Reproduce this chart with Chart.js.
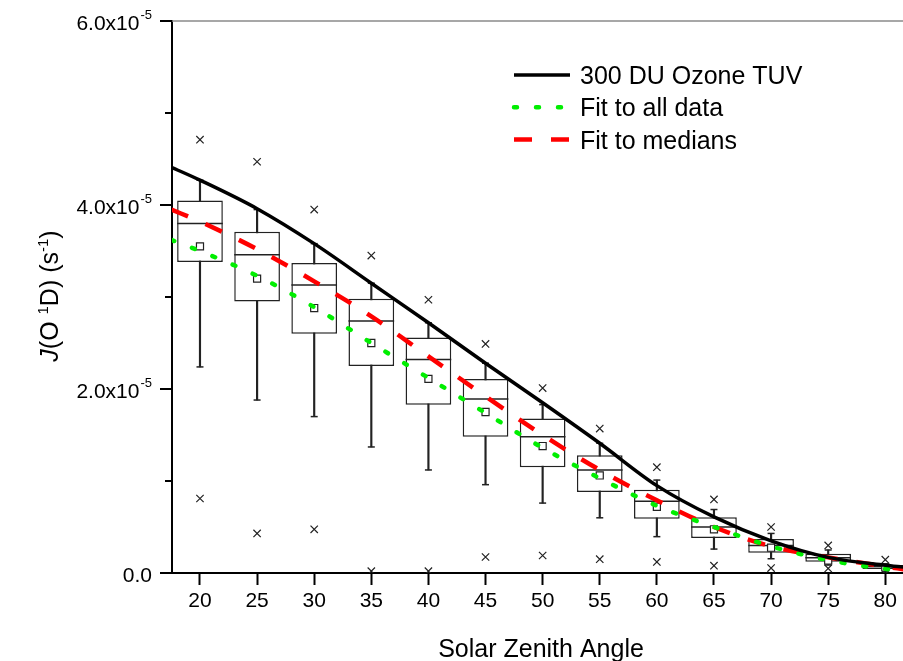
<!DOCTYPE html>
<html>
<head>
<meta charset="utf-8">
<title>J(O1D) vs Solar Zenith Angle</title>
<script src="https://cdn.jsdelivr.net/npm/chart.js@4.4.1/dist/chart.umd.min.js"></script>
<style>
  html, body { margin: 0; padding: 0; background: #fff; }
  #wrap { position: relative; width: 903px; height: 661px; }
</style>
</head>
<body>
<div id="wrap"><canvas id="myChart"></canvas></div>
<script>
"use strict";
var FONT = '"Liberation Sans", Arial, Helvetica, sans-serif';

/* ---- data, J(O1D) in units of 1e-5 s^-1 ---- */
var szaBins      = [20, 25, 30, 35, 40, 45, 50, 55, 60, 65, 70, 75, 80];
var boxLow       = [3.38, 2.95, 2.60, 2.25, 1.83, 1.48, 1.15, 0.88, 0.59, 0.38, 0.22, 0.123, 0.043];
var boxMedian    = [3.80, 3.46, 3.13, 2.74, 2.32, 1.89, 1.48, 1.12, 0.78, 0.50, 0.30, 0.166, 0.07];
var boxHigh      = [4.05, 3.71, 3.37, 2.98, 2.56, 2.11, 1.68, 1.28, 0.905, 0.605, 0.37, 0.21, 0.087];
var boxMean      = [3.55, 3.20, 2.88, 2.50, 2.11, 1.75, 1.38, 1.06, 0.72, 0.475, 0.275, 0.135, 0.06];
var whiskerLow   = [2.24, 1.88, 1.70, 1.37, 1.12, 0.96, 0.76, 0.60, 0.395, 0.26, 0.155, 0.087, 0.02];
var whiskerHigh  = [4.27, 3.95, 3.58, 3.15, 2.72, 2.28, 1.83, 1.41, 1.01, 0.69, 0.43, 0.25, 0.10];
var extremeHigh  = [4.71, 4.47, 3.95, 3.45, 2.97, 2.49, 2.01, 1.57, 1.15, 0.80, 0.50, 0.30, 0.145];
var extremeLow   = [0.81, 0.43, 0.475, 0.02, 0.02, 0.174, 0.19, 0.15, 0.12, 0.08, 0.054, 0.05, 0.02];

var curveSza     = [17.5, 20, 25, 30, 35, 40, 45, 50, 55, 60, 65, 70, 75, 80, 81.6];
var tuv300       = [4.41, 4.27, 3.96, 3.58, 3.15, 2.72, 2.28, 1.85, 1.41, 0.95, 0.61, 0.35, 0.17, 0.085, 0.065];
var fitAll       = [3.62, 3.50, 3.23, 2.89, 2.50, 2.12, 1.74, 1.36, 1.03, 0.73, 0.50, 0.29, 0.14, 0.045, 0.03];
var fitMedians   = [3.95, 3.82, 3.52, 3.17, 2.79, 2.355, 1.92, 1.50, 1.12, 0.79, 0.50, 0.29, 0.17, 0.07, 0.04];

var xTickValues  = [20, 25, 30, 35, 40, 45, 50, 55, 60, 65, 70, 75, 80];
var yMajorTicks  = [0, 2, 4, 6];
var yMinorTicks  = [1, 3, 5];
var boxHalfWidth = 2; // in degrees

function pts(xs, ys) {
  return xs.map(function(x, i) { return { x: x, y: ys[i] }; });
}

/* ---- extra drawing: y ticks with powers of ten, titles, legend ---- */
var decor = {
  id: "decor",
  afterDraw: function(chart) {
    var ctx = chart.ctx, area = chart.chartArea, y = chart.scales.y;
    ctx.save();

    // frame line at the top
    ctx.strokeStyle = "#8a8a8a";
    ctx.lineWidth = 1.5;
    ctx.beginPath();
    ctx.moveTo(area.left, area.top);
    ctx.lineTo(area.right, area.top);
    ctx.stroke();

    // y tick marks
    ctx.strokeStyle = "#000";
    ctx.lineWidth = 2;
    yMajorTicks.forEach(function(v) {
      var py = Math.round(y.getPixelForValue(v));
      ctx.beginPath(); ctx.moveTo(area.left - 12, py); ctx.lineTo(area.left, py); ctx.stroke();
    });
    yMinorTicks.forEach(function(v) {
      var py = Math.round(y.getPixelForValue(v));
      ctx.beginPath(); ctx.moveTo(area.left - 7, py); ctx.lineTo(area.left, py); ctx.stroke();
    });

    // y tick labels
    ctx.fillStyle = "#000";
    ctx.textBaseline = "alphabetic";
    ctx.textAlign = "right";
    var right = area.left - 20;
    yMajorTicks.forEach(function(v) {
      var base = y.getPixelForValue(v) + 9;
      if (v === 0) {
        ctx.font = "21px " + FONT;
        ctx.fillText("0.0", right, base);
        return;
      }
      ctx.font = "13px " + FONT;
      var sw = ctx.measureText("-5").width;
      ctx.fillText("-5", right, base - 11);
      ctx.font = "21px " + FONT;
      ctx.fillText(v.toFixed(1) + "x10", right - sw - 1, base);
    });

    // x title
    ctx.textAlign = "center";
    ctx.font = "25px " + FONT;
    ctx.fillText("Solar Zenith Angle", 541, 657);

    // y title, rotated
    var parts = [
      { t: "J", f: "italic 25px " + FONT, up: 0 },
      { t: "(O ", f: "25px " + FONT, up: 0 },
      { t: "1", f: "15px " + FONT, up: 10 },
      { t: "D) (s", f: "25px " + FONT, up: 0 },
      { t: "-1", f: "15px " + FONT, up: 10 },
      { t: ")", f: "25px " + FONT, up: 0 }
    ];
    var total = 0;
    parts.forEach(function(p) { ctx.font = p.f; p.w = ctx.measureText(p.t).width; total += p.w; });
    ctx.translate(58, 296);
    ctx.rotate(-Math.PI / 2);
    ctx.textAlign = "left";
    var cx = -total / 2;
    parts.forEach(function(p) {
      ctx.font = p.f;
      ctx.fillText(p.t, cx, -p.up);
      cx += p.w;
    });
    ctx.setTransform(1, 0, 0, 1, 0, 0);

    // legend
    var rows = [0, 1, 2];
    ctx.font = "25px " + FONT;
    ctx.textAlign = "left";
    rows.forEach(function(i) {
      var ds = chart.data.datasets[i];
      var ly = 75 + i * 32.3;
      ctx.save();
      ctx.strokeStyle = ds.borderColor;
      ctx.lineWidth = ds.borderWidth;
      ctx.lineCap = ds.borderCapStyle || "butt";
      ctx.setLineDash(ds.borderDash || []);
      ctx.beginPath(); ctx.moveTo(514, ly); ctx.lineTo(570, ly); ctx.stroke();
      ctx.restore();
      ctx.fillStyle = "#000";
      ctx.fillText(ds.label, 580, ly + 9);
    });

    ctx.restore();
  }
};

var ctx = document.getElementById("myChart").getContext("2d");
var chart = new Chart(ctx, {
  type: "bar",
  data: {
    datasets: [
      {
        type: "line",
        label: "300 DU Ozone TUV",
        data: pts(curveSza, tuv300),
        borderColor: "#000",
        borderWidth: 3.5,
        pointRadius: 0,
        cubicInterpolationMode: "monotone",
        order: 0
      },
      {
        type: "line",
        label: "Fit to all data",
        data: pts(curveSza, fitAll),
        borderColor: "#00ee00",
        borderWidth: 4.5,
        borderDash: [3, 19],
        borderCapStyle: "round",
        pointRadius: 0,
        cubicInterpolationMode: "monotone",
        order: 0
      },
      {
        type: "line",
        label: "Fit to medians",
        data: pts(curveSza, fitMedians),
        borderColor: "#ff0000",
        borderWidth: 4.5,
        borderDash: [18, 19],
        pointRadius: 0,
        cubicInterpolationMode: "monotone",
        order: 0
      },
      {
        type: "line",
        label: "Mean",
        data: pts(szaBins, boxMean),
        showLine: false,
        pointStyle: "rect",
        pointRadius: 5,
        pointBackgroundColor: "#fff",
        pointBorderColor: "#222",
        pointBorderWidth: 1.2,
        order: 1
      },
      {
        type: "line",
        label: "Extremes",
        data: pts(szaBins, extremeHigh).concat(pts(szaBins, extremeLow)),
        showLine: false,
        pointStyle: "crossRot",
        pointRadius: 5.2,
        pointBorderColor: "#222",
        pointBorderWidth: 1.2,
        order: 1
      },
      {
        type: "line",
        label: "Median",
        data: pts(szaBins, boxMedian),
        showLine: false,
        pointStyle: "line",
        pointRadius: function(c) {
          var x = c.chart.scales.x;
          return x.getPixelForValue(boxHalfWidth) - x.getPixelForValue(0);
        },
        pointBorderColor: "#222",
        pointBorderWidth: 1.5,
        order: 1
      },
      {
        type: "line",
        label: "Whisker caps",
        data: pts(szaBins, whiskerLow).concat(pts(szaBins, whiskerHigh)),
        showLine: false,
        pointStyle: "line",
        pointRadius: 3.5,
        pointBorderColor: "#222",
        pointBorderWidth: 1.5,
        order: 1
      },
      {
        label: "Box",
        data: szaBins.map(function(x, i) { return { x: x, y: [boxLow[i], boxHigh[i]] }; }),
        backgroundColor: "#fff",
        borderColor: "#222",
        borderWidth: 1.5,
        borderSkipped: false,
        grouped: false,
        categoryPercentage: 0.8,
        barPercentage: 1,
        order: 2
      },
      {
        label: "Whiskers",
        data: szaBins.map(function(x, i) { return { x: x, y: [whiskerLow[i], whiskerHigh[i]] }; }),
        backgroundColor: "#222",
        borderWidth: 0,
        grouped: false,
        barThickness: 1.5,
        order: 3
      }
    ]
  },
  options: {
    responsive: true,
    maintainAspectRatio: false,
    animation: false,
    events: [],
    layout: { autoPadding: false, padding: { top: 21, right: 0, bottom: 0, left: 0 } },
    plugins: {
      legend: { display: false },
      tooltip: { enabled: false }
    },
    scales: {
      x: {
        type: "linear",
        min: 17.55,
        max: 81.55,
        offset: false,
        afterBuildTicks: function(scale) {
          scale.ticks = xTickValues.map(function(v) { return { value: v }; });
        },
        afterFit: function(scale) {
          scale.height = 88;
          scale.paddingLeft = 0;
          scale.paddingRight = 0;
        },
        grid: {
          offset: false,
          drawOnChartArea: false,
          drawTicks: true,
          tickLength: 12,
          tickWidth: 2,
          tickColor: "#000"
        },
        border: { display: true, color: "#000", width: 2 },
        ticks: {
          color: "#000",
          padding: 4,
          maxRotation: 0,
          font: { family: FONT, size: 21 }
        }
      },
      y: {
        type: "linear",
        min: 0,
        max: 6,
        afterFit: function(scale) { scale.width = 172; },
        grid: { drawOnChartArea: false, drawTicks: false },
        border: { display: true, color: "#000", width: 2 },
        ticks: { display: false }
      }
    }
  },
  plugins: [decor]
});
</script>
</body>
</html>
